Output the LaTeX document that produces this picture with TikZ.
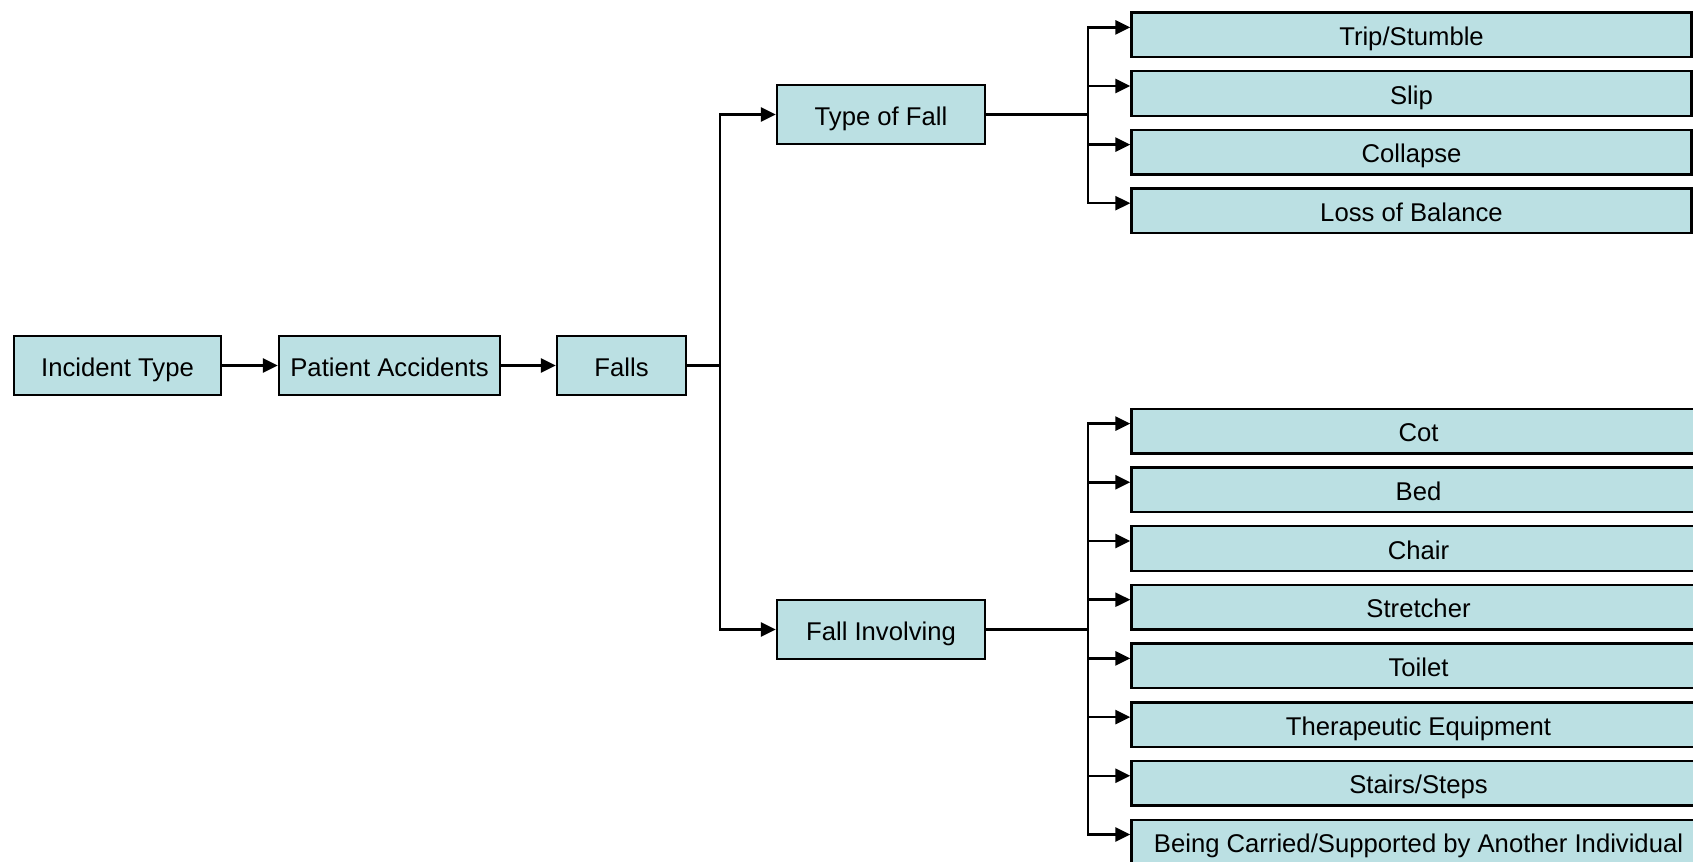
\documentclass[tikz,border=0pt]{standalone}
\usepackage{fontspec}
\setmainfont{Liberation Sans}
\usetikzlibrary{arrows.meta}
\definecolor{boxfill}{RGB}{187,224,227}
\tikzset{
    box/.style={draw=black, line width=1.4pt, fill=boxfill, minimum height=1.18cm,
        inner sep=0pt, text height=12pt, text depth=0pt,
        font=\fontsize{14.6pt}{17pt}\selectfont},
    leaf/.style={box, minimum height=0.89cm},
    conn/.style={line width=1.4pt},
    arr/.style={conn, -{Triangle[length=8.5pt,width=8pt]}}
}
\begin{document}
\begin{tikzpicture}
                    \useasboundingbox (0, 0) rectangle (33.86, 17.24);

                    % main row
                    \node[box, minimum width=4.14cm] (incident) at (2.35, 9.93) {Incident Type};
                    \node[box, minimum width=4.42cm] (patient) at (7.79, 9.93) {Patient Accidents};
                    \node[box, minimum width=2.58cm] (falls) at (12.43, 9.93) {Falls};
                    \draw[arr] (incident) -- (patient);
                    \draw[arr] (patient) -- (falls);

                    % the two groups
                    \node[box, minimum width=4.16cm] (typefall) at (17.62, 14.95) {Type of Fall};
                    \node[box, minimum width=4.16cm] (involving) at (17.62, 4.65) {Fall Involving};
                    \coordinate (fallsj) at (14.40, 9.93);
                    \draw[conn] (falls) -- (fallsj);
                    \draw[arr] (fallsj) |- (typefall);
                    \draw[arr] (fallsj) |- (involving);

                    % type of fall
                    \node[leaf, minimum width=11.2cm] (trip) at (28.23, 16.542) {Trip/Stumble};
                    \node[leaf, minimum width=11.2cm] (slip) at (28.23, 15.370) {Slip};
                    \node[leaf, minimum width=11.2cm] (collapse) at (28.23, 14.198) {Collapse};
                    \node[leaf, minimum width=11.2cm] (balance) at (28.23, 13.026) {Loss of Balance};
                    \coordinate (typej) at (21.76, 14.95);
                    \draw[conn] (typefall) -- (typej);
                    \draw[arr] (typej) |- ([yshift=0.15cm]trip.west);
                    \draw[arr] (typej) |- ([yshift=0.15cm]slip.west);
                    \draw[arr] (typej) |- ([yshift=0.15cm]collapse.west);
                    \draw[arr] (typej) |- ([yshift=0.15cm]balance.west);

                    % fall involving
                    \node[leaf, minimum width=11.48cm] (cot) at (28.37, 8.618) {Cot};
                    \node[leaf, minimum width=11.48cm] (bed) at (28.37, 7.444) {Bed};
                    \node[leaf, minimum width=11.48cm] (chair) at (28.37, 6.270) {Chair};
                    \node[leaf, minimum width=11.48cm] (stretcher) at (28.37, 5.096) {Stretcher};
                    \node[leaf, minimum width=11.48cm] (toilet) at (28.37, 3.922) {Toilet};
                    \node[leaf, minimum width=11.48cm] (therapy) at (28.37, 2.748) {Therapeutic Equipment};
                    \node[leaf, minimum width=11.48cm] (stairs) at (28.37, 1.574) {Stairs/Steps};
                    \node[leaf, minimum width=11.48cm] (carried) at (28.37, 0.400) {Being Carried/Supported by Another Individual};
                    \coordinate (involvej) at (21.76, 4.65);
                    \draw[conn] (involving) -- (involvej);
                    \draw[arr] (involvej) |- ([yshift=0.15cm]cot.west);
                    \draw[arr] (involvej) |- ([yshift=0.15cm]bed.west);
                    \draw[arr] (involvej) |- ([yshift=0.15cm]chair.west);
                    \draw[arr] (involvej) |- ([yshift=0.15cm]stretcher.west);
                    \draw[arr] (involvej) |- ([yshift=0.15cm]toilet.west);
                    \draw[arr] (involvej) |- ([yshift=0.15cm]therapy.west);
                    \draw[arr] (involvej) |- ([yshift=0.15cm]stairs.west);
                    \draw[arr] (involvej) |- ([yshift=0.15cm]carried.west);
                \end{tikzpicture}
\end{document}
